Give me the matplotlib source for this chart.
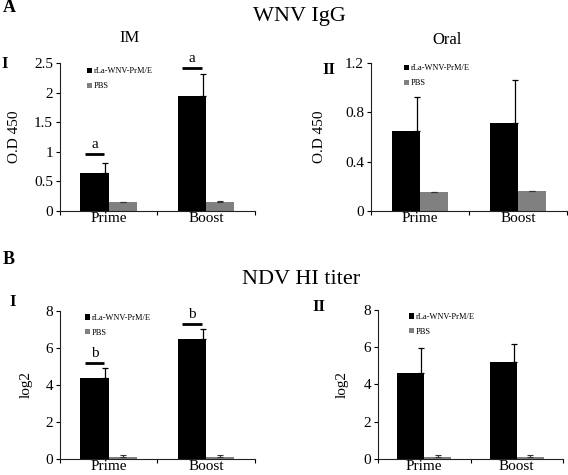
import numpy as np
import matplotlib
matplotlib.use("Agg")
from matplotlib import pyplot as plt
from matplotlib.patches import Patch

plt.rcParams['font.family'] = ['Liberation Serif', 'DejaVu Serif']

groups = ["Prime", "Boost"]
series = ["rLa-WNV-PrM/E", "PBS"]

# panel A-I (WNV IgG, IM)
im_vac = [0.65, 1.95]
im_vac_err = [0.16, 0.36]
im_pbs = [0.15, 0.16]
im_pbs_err = [0.005, 0.005]
im_sig = [0.96, 2.42]

# panel A-II (WNV IgG, Oral)
oral_vac = [0.645, 0.71]
oral_vac_err = [0.28, 0.35]
oral_pbs = [0.15, 0.16]
oral_pbs_err = [0.005, 0.005]

# panel B-I (NDV HI titer)
hi1_vac = [4.4, 6.5]
hi1_vac_err = [0.52, 0.55]
hi1_pbs = [0.1, 0.1]
hi1_pbs_err = [0.1, 0.1]
hi1_sig = [5.2, 7.3]

# panel B-II (NDV HI titer)
hi2_vac = [4.6, 5.2]
hi2_vac_err = [1.37, 0.95]
hi2_pbs = [0.1, 0.1]
hi2_pbs_err = [0.1, 0.1]

W = 0.29
GREY = '#808080'


def panel(rect, vac, vac_err, pbs, pbs_err, yticks, ylabel, ylabx, legxy, sig=None, letter=None):
    ax = fig.add_axes(rect)
    x = np.arange(len(groups))
    ax.bar(x - W / 2, vac, W, color='black', zorder=2)
    ax.bar(x + W / 2, pbs, W, color=GREY, zorder=2)
    ax.errorbar(x - W / 2 + 0.11, vac, yerr=[np.zeros(2), vac_err], fmt='none',
                ecolor='black', elinewidth=0.9, capsize=2.5, capthick=0.9, zorder=3)
    ax.errorbar(x + W / 2, pbs, yerr=[np.zeros(2), pbs_err], fmt='none',
                ecolor='#333333', elinewidth=0.8, capsize=2, capthick=0.8, zorder=3)
    if sig is not None:
        for xi, yi in zip(x - W / 2, sig):
            ax.plot([xi - 0.1, xi + 0.1], [yi, yi], color='black', lw=2, solid_capstyle='butt')
            ax.text(xi, yi + yticks[-1] * 0.02, letter, ha='center', va='bottom', fontsize=11)
    ax.set_xlim(-0.5, 1.5)
    ax.set_ylim(0, yticks[-1])
    ax.set_yticks(yticks)
    ax.set_yticklabels([f"{t:g}" for t in yticks])
    ax.set_xticks([-0.5, 0.5, 1.5])
    ax.set_xticklabels([])
    ax.set_xticks(x, minor=True)
    ax.set_xticklabels(groups, minor=True)
    ax.tick_params(axis='x', which='minor', length=0, labelsize=11, pad=1)
    ax.tick_params(axis='x', which='major', direction='out', length=3, width=0.8)
    ax.tick_params(axis='y', direction='out', length=3, width=0.8, labelsize=11, pad=2)
    for s in ['top', 'right']:
        ax.spines[s].set_visible(False)
    for s in ['left', 'bottom']:
        ax.spines[s].set_linewidth(0.8)
        ax.spines[s].set_color('#222222')
    ax.set_ylabel(ylabel, fontsize=11)
    ax.yaxis.set_label_coords(ylabx, 0.5)
    handles = [Patch(facecolor='black'), Patch(facecolor=GREY)]
    ax.legend(handles, series, loc='upper left', bbox_to_anchor=legxy, fontsize=6,
              handlelength=0.6, handleheight=0.6, handletextpad=0.2, labelspacing=0.8,
              frameon=False, borderaxespad=0, borderpad=0)
    return ax


fig = plt.figure(figsize=(5.68, 4.75), dpi=100)

panel([0.1056, 0.5558, 0.343, 0.3116], im_vac, im_vac_err, im_pbs, im_pbs_err,
      [0, 0.5, 1, 1.5, 2, 2.5], "O.D 450", -0.20, (0.14, 0.97), im_sig, 'a')
panel([0.6532, 0.5558, 0.345, 0.3116], oral_vac, oral_vac_err, oral_pbs, oral_pbs_err,
      [0, 0.4, 0.8, 1.2], "O.D 450", -0.23, (0.17, 0.99))
panel([0.1056, 0.0337, 0.343, 0.3116], hi1_vac, hi1_vac_err, hi1_pbs, hi1_pbs_err,
      [0, 2, 4, 6, 8], "log2", -0.14, (0.13, 0.98), hi1_sig, 'b')
panel([0.6655, 0.0337, 0.3257, 0.3137], hi2_vac, hi2_vac_err, hi2_pbs, hi2_pbs_err,
      [0, 2, 4, 6, 8], "log2", -0.157, (0.17, 0.98))

def ftext(px, py, s, **kw):
    fig.text(px / 568, 1 - py / 475, s, ha='center', va='center', **kw)

ftext(299, 17, "WNV IgG", fontsize=16)
ftext(130, 38, "IM", fontsize=12)
ftext(447, 40, "Oral", fontsize=12)
ftext(9, 8, "A", fontsize=13, fontweight='bold')
ftext(5, 64, "I", fontsize=12, fontweight='bold')
ftext(329, 70, "II", fontsize=12, fontweight='bold')
ftext(9, 259, "B", fontsize=13, fontweight='bold')
ftext(301, 280, "NDV HI titer", fontsize=16)
ftext(13, 302, "I", fontsize=12, fontweight='bold')
ftext(319, 307, "II", fontsize=12, fontweight='bold')

fig.savefig("out.png", dpi=100)
